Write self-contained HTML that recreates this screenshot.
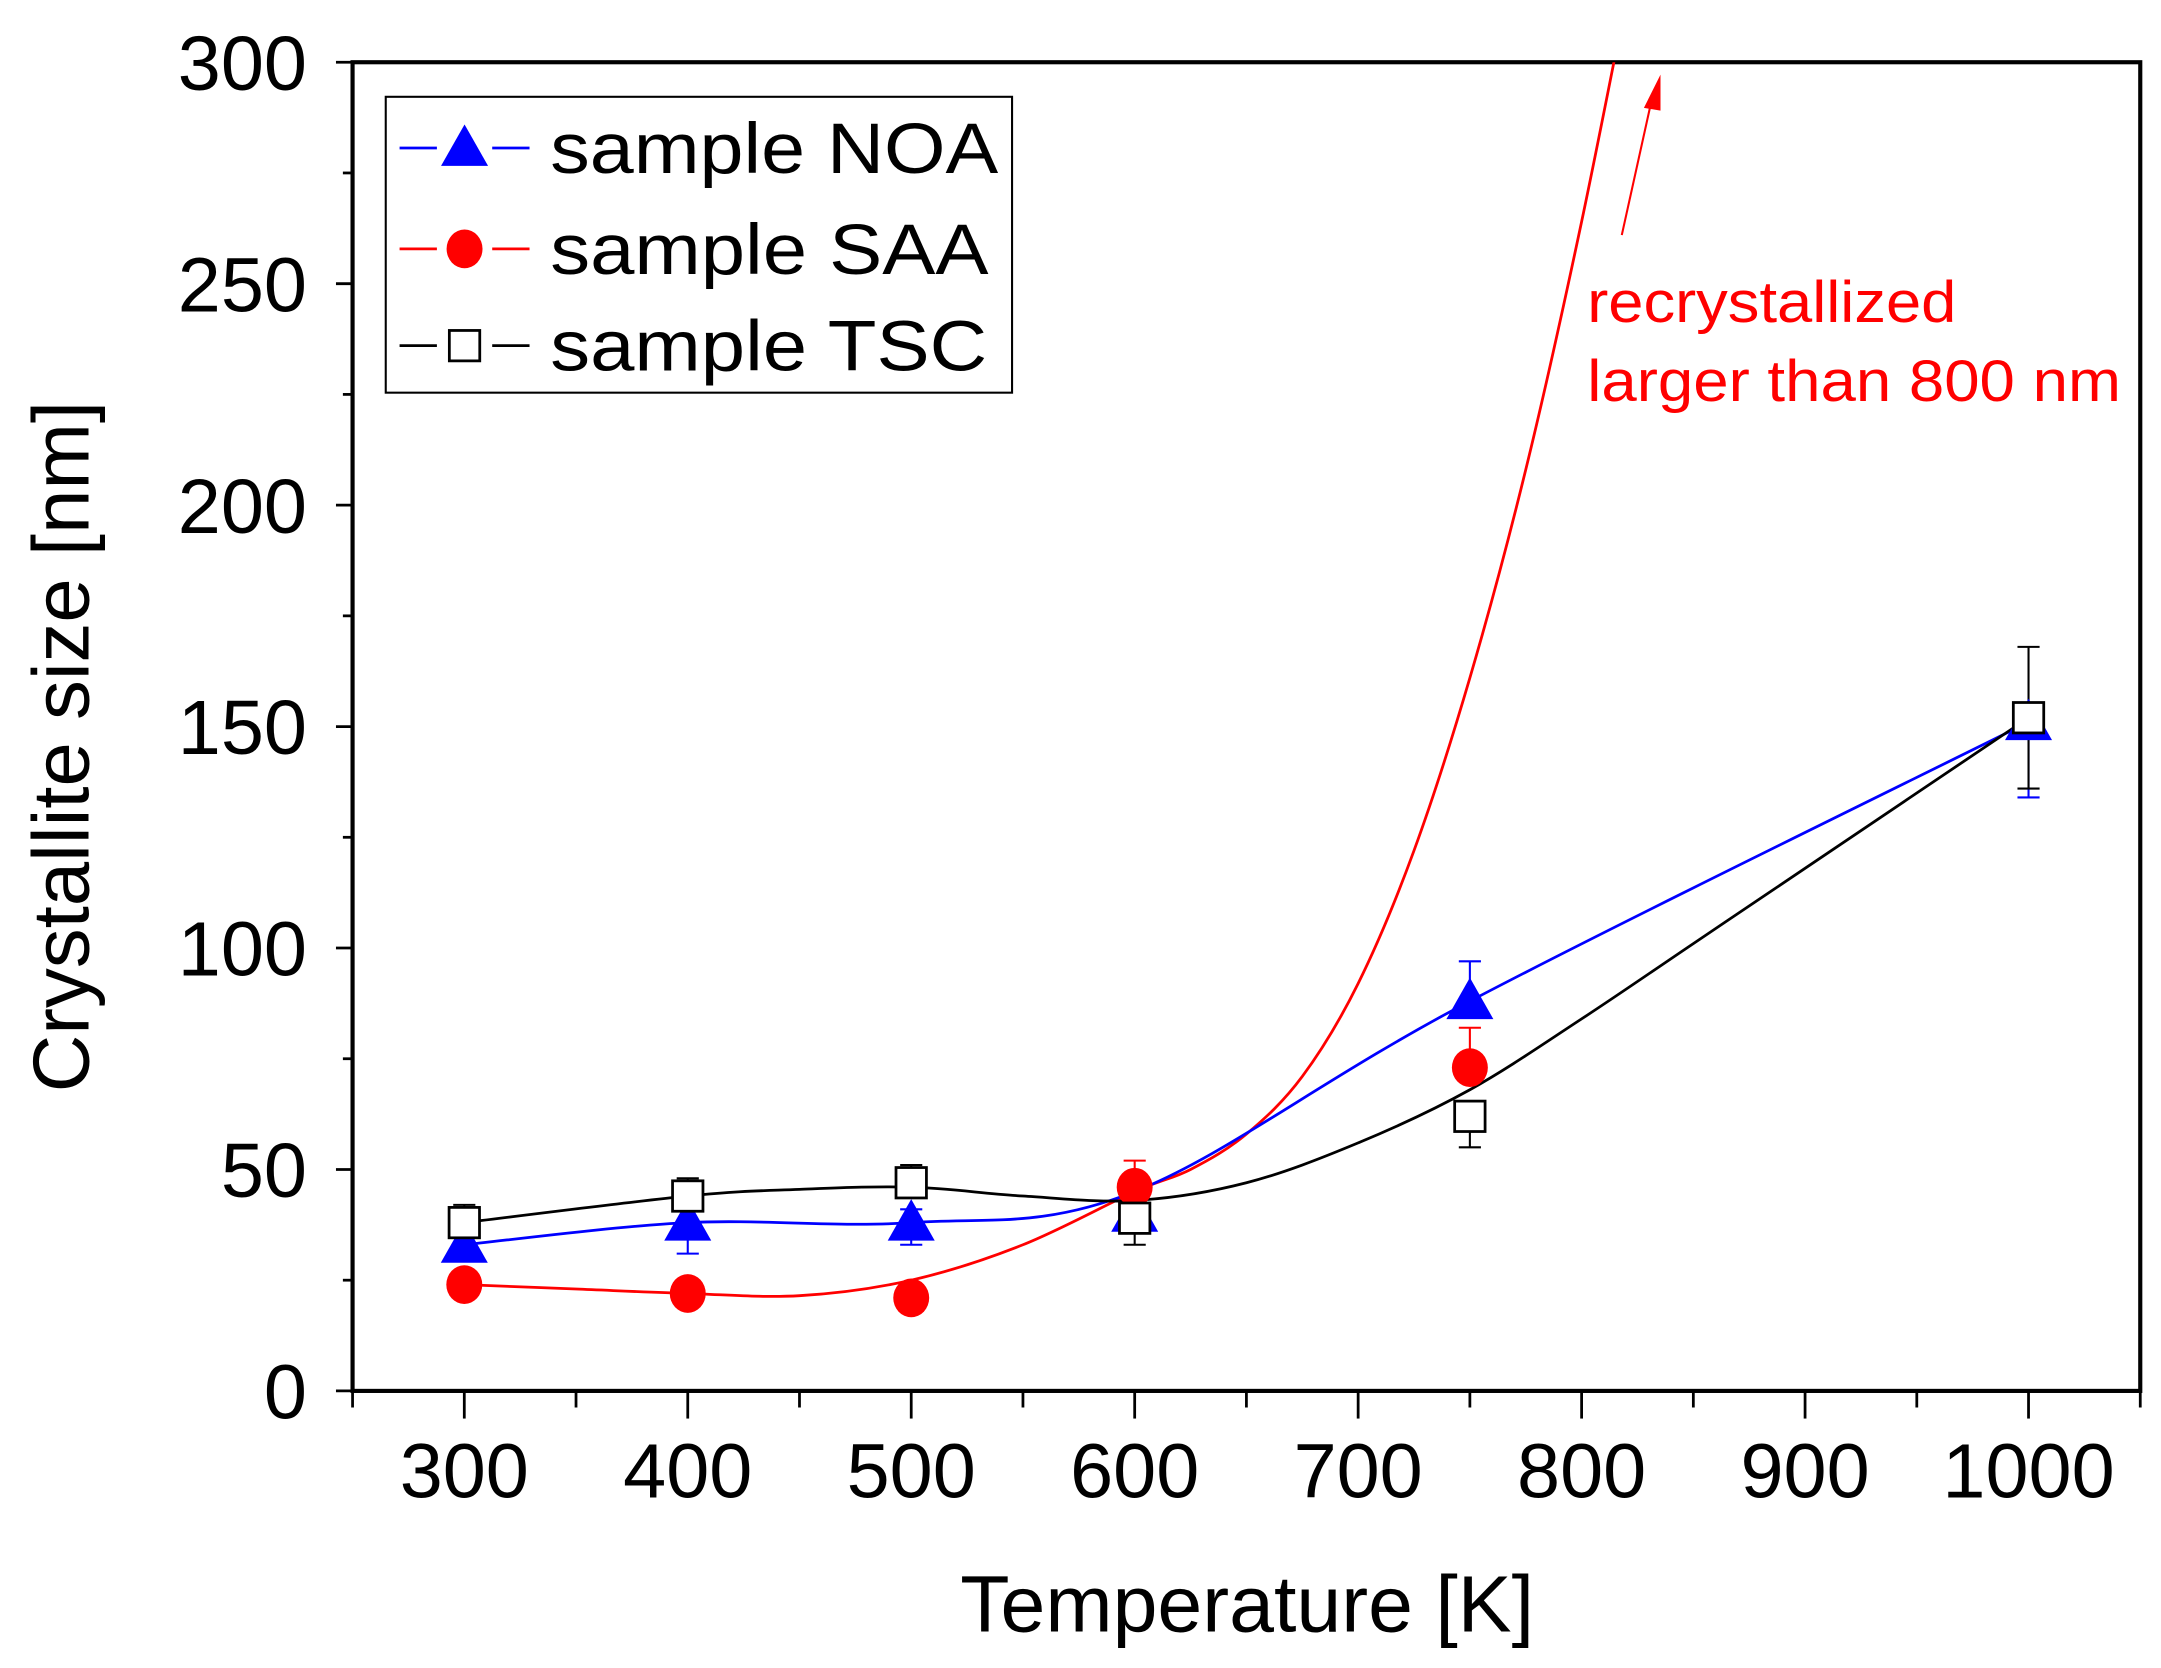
<!DOCTYPE html>
<html><head><meta charset="utf-8"><style>
html,body{margin:0;padding:0;background:#fff;}
svg{display:block;font-family:"Liberation Sans",Arial,sans-serif;}
</style></head><body>
<svg id="chart" width="2161" height="1668" viewBox="0 0 1563 1206.4" xmlns="http://www.w3.org/2000/svg">
<defs><clipPath id="plotclip"><rect x="255" y="45" width="1293" height="961"/></clipPath></defs>
<rect width="1563" height="1206.4" fill="#fff"/>
<g id="axes"></g>
<g id="series" clip-path="url(#plotclip)"></g>
<g id="legend"></g>
<text x="902" y="1180" font-size="58" text-anchor="middle" textLength="415" lengthAdjust="spacingAndGlyphs">Temperature [K]</text>
<text transform="translate(64,540) rotate(-90)" font-size="58" text-anchor="middle" textLength="500" lengthAdjust="spacingAndGlyphs">Crystallite size [nm]</text>
<text x="1148" y="233" font-size="42" fill="#ff0000" textLength="267" lengthAdjust="spacingAndGlyphs">recrystallized</text>
<text x="1148" y="290" font-size="42" fill="#ff0000" textLength="386" lengthAdjust="spacingAndGlyphs">larger than 800 nm</text>
<line x1="1173" y1="170" x2="1194" y2="75" stroke="#ff0000" stroke-width="1.5"/>
<polygon points="1201,54 1189,78 1201,80" fill="#ff0000"/>
</svg>
<script>
const temps = [300, 400, 500, 600, 750, 1000];
const noaValues = [33, 38, 38, 40, 88, 151];
const noaErrLow = [3, 7, 5, 3, 3, 17];
const noaErrHigh = [3, 3, 3, 3, 9, 3];
const saaTemps = [300, 400, 500, 600, 750];
const saaValues = [24, 22, 21, 46, 73];
const saaErrLow = [2, 2, 2, 2, 2];
const saaErrHigh = [2, 2, 2, 6, 9];
const tscValues = [38, 44, 47, 39, 62, 152];
const tscErrLow = [3, 3, 3, 6, 7, 16];
const tscErrHigh = [4, 4, 4, 3, 3, 16];
const noaFitTemps = [300, 400, 500, 600, 750, 1000];
const noaFitValues = [33, 38, 38, 45, 88, 151];
const tscFitTemps = [300, 400, 450, 500, 550, 600, 650, 700, 750, 800, 850, 900, 1000];
const tscFitValues = [38, 44, 45.5, 46, 44, 43, 47, 56, 68, 84, 101, 118, 152];
const saaFitTemps = [300, 350, 400, 450, 500, 550, 600, 625, 650, 675, 700, 725, 750, 775, 800, 825];
const saaFitValues = [24, 23, 22, 21.5, 25, 33, 45, 50, 58, 71, 92, 122, 161, 208, 264, 327];
const xTicks = [300, 400, 500, 600, 700, 800, 900, 1000];
const yTicks = [0, 50, 100, 150, 200, 250, 300];

const NS = "http://www.w3.org/2000/svg";
const L = 255, R = 1548, T = 45, B = 1006;
const xMin = 250, xMax = 1050, yMin = 0, yMax = 300;
function sx(v){ return L + (v - xMin) / (xMax - xMin) * (R - L); }
function sy(v){ return B - (v - yMin) / (yMax - yMin) * (B - T); }
function mk(tag, attrs, parent){ const e = document.createElementNS(NS, tag); for (const k in attrs) e.setAttribute(k, attrs[k]); parent.appendChild(e); return e; }

const axes = document.getElementById('axes');
const frame = mk('rect', {x:L, y:T, width:R-L, height:B-T, fill:'none', stroke:'#000', 'stroke-width':3}, axes);


for (let v = 250; v <= 1050; v += 50) {
  const major = v % 100 === 0;
  const t = mk('line', {x1:sx(v), x2:sx(v), y1:B, y2:B + (major ? 20 : 12), stroke:'#000', 'stroke-width':2}, axes);
  
  
}
xTicks.forEach(v => {
  const t = mk('text', {x:sx(v), y:1083, 'font-size':56, 'text-anchor':'middle'}, axes);
  t.textContent = v;
  
  
});
for (let v = 0; v <= 300; v += 25) {
  const major = v % 50 === 0;
  const t = mk('line', {x1:L - (major ? 12 : 7), x2:L, y1:sy(v), y2:sy(v), stroke:'#000', 'stroke-width':2}, axes);
  
  
}
yTicks.forEach(v => {
  const t = mk('text', {x:222, y:sy(v) + 20, 'font-size':56, 'text-anchor':'end'}, axes);
  t.textContent = v;
  
  
});

function smoothPath(xs, ys){
  const p = xs.map((x, i) => [sx(x), sy(ys[i])]);
  let d = 'M' + p[0][0] + ',' + p[0][1];
  for (let i = 0; i < p.length - 1; i++) {
    const p0 = p[Math.max(0, i - 1)], p1 = p[i], p2 = p[i + 1], p3 = p[Math.min(p.length - 1, i + 2)];
    const c1x = p1[0] + (p2[0] - p0[0]) / 6, c1y = p1[1] + (p2[1] - p0[1]) / 6;
    const c2x = p2[0] - (p3[0] - p1[0]) / 6, c2y = p2[1] - (p3[1] - p1[1]) / 6;
    d += ' C' + c1x + ',' + c1y + ' ' + c2x + ',' + c2y + ' ' + p2[0] + ',' + p2[1];
  }
  return d;
}
const series = document.getElementById('series');
function errBars(xs, vals, lo, hi, color, name){
  xs.forEach((x, i) => {
    const X = sx(x), y1 = sy(vals[i] - lo[i]), y2 = sy(vals[i] + hi[i]);
    const g = mk('path', {d:`M${X},${y1}V${y2}M${X-8},${y1}H${X+8}M${X-8},${y2}H${X+8}`, stroke:color, 'stroke-width':1.5, fill:'none'}, series);
    
    
  });
}
const fitLine = mk('path', {d:smoothPath(saaFitTemps, saaFitValues), stroke:'#ff0000', 'stroke-width':2, fill:'none'}, series);


const noaLine = mk('path', {d:smoothPath(noaFitTemps, noaFitValues), stroke:'#0000ff', 'stroke-width':2, fill:'none'}, series);


const tscLine = mk('path', {d:smoothPath(tscFitTemps, tscFitValues), stroke:'#000', 'stroke-width':2, fill:'none'}, series);


errBars(temps, noaValues, noaErrLow, noaErrHigh, '#0000ff', 'noa');
errBars(saaTemps, saaValues, saaErrLow, saaErrHigh, '#ff0000', 'saa');
errBars(temps, tscValues, tscErrLow, tscErrHigh, '#000', 'tsc');
function tri(cx, cy, parent){ return mk('polygon', {points:`${cx},${cy-17} ${cx-17},${cy+13} ${cx+17},${cy+13}`, fill:'#0000ff'}, parent); }
function circ(cx, cy, parent){ return mk('ellipse', {cx:cx, cy:cy, rx:13, ry:14, fill:'#ff0000'}, parent); }
function sq(cx, cy, parent){ return mk('rect', {x:cx-11, y:cy-11, width:22, height:22, fill:'#fff', stroke:'#000', 'stroke-width':2}, parent); }
temps.forEach((t, i) => {
  const m = tri(sx(t), sy(noaValues[i]), series);
  
  
});
saaTemps.forEach((t, i) => {
  const m = circ(sx(t), sy(saaValues[i]), series);
  
  
});
temps.forEach((t, i) => {
  const m = sq(sx(t), sy(tscValues[i]), series);
  
  
});

const legend = document.getElementById('legend');
const box = mk('rect', {x:279, y:70, width:453, height:214, fill:'#fff', stroke:'#000', 'stroke-width':1.5}, legend);


const entries = [['sample NOA', '#0000ff', tri, 107, 324], ['sample SAA', '#ff0000', circ, 180, 317], ['sample TSC', '#000', sq, 250, 316]];
entries.forEach(([label, color, fn, y, w]) => {
  const g = mk('g', {}, legend);
  
  
  mk('line', {x1:289, x2:316, y1:y, y2:y, stroke:color, 'stroke-width':2}, g);
  mk('line', {x1:356, x2:383, y1:y, y2:y, stroke:color, 'stroke-width':2}, g);
  fn(336, y, g);
  const t = mk('text', {x:398, y:y + 18, 'font-size':52, textLength:w, lengthAdjust:'spacingAndGlyphs'}, g);
  t.textContent = label;
});
</script>
</body></html>
